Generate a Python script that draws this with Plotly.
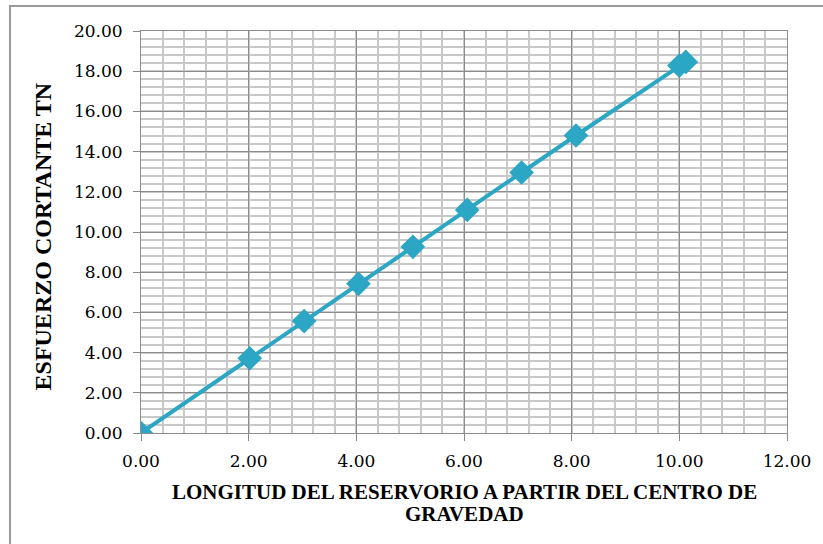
import plotly.graph_objects as go

# longitud desde el centro de gravedad (m) y esfuerzo cortante (tn)
longitud = [0.0, 2.02, 3.03, 4.04, 5.05, 6.06, 7.07, 8.08, 10.0, 10.12]
esfuerzo = [0.0, 3.72, 5.57, 7.42, 9.26, 11.1, 12.96, 14.8, 18.28, 18.46]

x_ticks = [0, 2, 4, 6, 8, 10, 12]
y_ticks = [0, 2, 4, 6, 8, 10, 12, 14, 16, 18, 20]

x_titulo = ['LONGITUD DEL RESERVORIO A PARTIR DEL CENTRO DE', 'GRAVEDAD']
y_titulo = 'ESFUERZO CORTANTE TN'

azul = 'rgb(43,166,196)'
tick_font = dict(family='DejaVu Serif', size=17, color='black')
title_font = dict(family='Liberation Serif', size=21, color='black')

fig = go.Figure()
fig.add_trace(go.Scatter(
    x=longitud, y=esfuerzo, mode='lines+markers',
    line=dict(color=azul, width=4),
    marker=dict(symbol='diamond', size=19, color=azul),
    showlegend=False,
))

ejes = dict(
    tickfont=tick_font, ticks='outside', ticklen=7, tickcolor='#888',
    showgrid=True, gridcolor='#8c8c8c', gridwidth=1,
    minor=dict(dtick=0.4, showgrid=True, gridcolor='#c8c8c8', gridwidth=1.5, ticks=''),
    showline=True, linecolor='#8c8c8c', linewidth=1, mirror=True,
    zeroline=False,
)
fig.update_xaxes(range=[0, 12], tickvals=x_ticks,
                 ticktext=['%.2f' % v for v in x_ticks],
                 ticklabelstandoff=6, **ejes)
fig.update_yaxes(range=[0, 20], tickvals=y_ticks,
                 ticktext=['%.2f' % v for v in y_ticks],
                 ticklabelstandoff=7, **ejes)

# titulos de ejes
for linea, yy in zip(x_titulo, [-0.147, -0.2015]):
    fig.add_annotation(text='<b>%s</b>' % linea, xref='paper', yref='paper',
                       x=0.5, y=yy, xanchor='center', yanchor='middle',
                       showarrow=False, font=title_font)
fig.add_annotation(text='<b>%s</b>' % y_titulo, xref='paper', yref='paper',
                   x=-0.151, y=0.49, xanchor='center', yanchor='middle',
                   textangle=-90, showarrow=False,
                   font=dict(family='Liberation Serif', size=24, color='black'))

# marco exterior del grafico
fig.add_shape(type='rect', xref='paper', yref='paper',
              x0=-0.2028, y0=-0.3, x1=1.08, y1=1.062,
              line=dict(color='#9a9a9a', width=2), layer='below')

fig.update_layout(
    width=823, height=544,
    margin=dict(l=141, r=36, t=31, b=111),
    paper_bgcolor='white', plot_bgcolor='white',
)

fig.write_html('out.html', config={'displayModeBar': False},
               post_script="document.body.style.margin='0';")
